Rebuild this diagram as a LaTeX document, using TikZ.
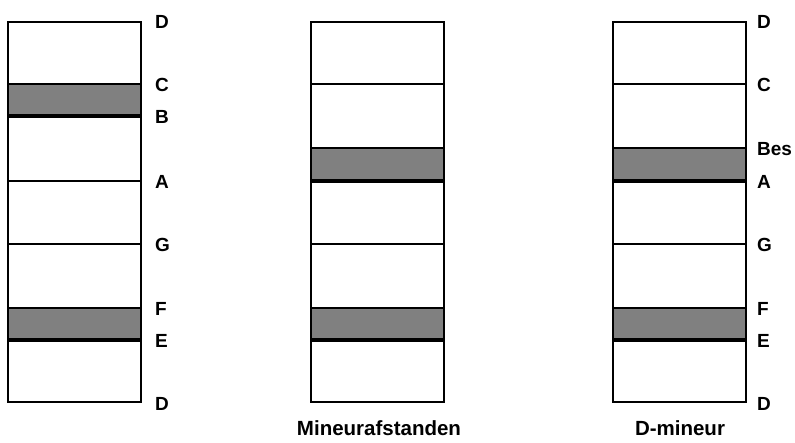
\documentclass[tikz,border=0pt]{standalone}
\usepackage{fontspec}
\setmainfont{Liberation Sans}
\usepackage{tikz}

\tikzset{
  note/.style={font=\fontsize{19}{19}\selectfont\bfseries, anchor=west, inner sep=0pt},
  caption/.style={font=\fontsize{20.5}{21}\selectfont\bfseries, inner sep=0pt},
  halfstep/.style={fill=black!50, draw=none},
  bar/.style={line width=3.6pt}
}

\begin{document}
\begin{tikzpicture}[x=1pt, y=-1pt, line width=2.2pt]
\useasboundingbox (0,0) rectangle (795,442);

% linker kolom: D-dorisch
\fill[halfstep] (8,84) rectangle (141,116);
\fill[halfstep] (8,308) rectangle (141,340);
\draw (8,22) rectangle (141,402);
\draw (8,84) -- (141,84);
\draw (8,181) -- (141,181);
\draw (8,244) -- (141,244);
\draw (8,308) -- (141,308);
\draw[bar] (8,116) -- (141,116);
\draw[bar] (8,340) -- (141,340);
\node[note] (lD) at (154,22) {D};
\node[note] (lC) at (154,85) {C};
\node[note] (lB) at (154,117) {B};
\node[note] (lA) at (154,182) {A};
\node[note] (lG) at (154,245) {G};
\node[note] (lF) at (154,309) {F};
\node[note] (lE) at (154,341) {E};
\node[note] (lDl) at (154,404) {D};

% middelste kolom
\fill[halfstep] (311,148) rectangle (444,181);
\fill[halfstep] (311,308) rectangle (444,340);
\draw (311,22) rectangle (444,402);
\draw (311,84) -- (444,84);
\draw (311,148) -- (444,148);
\draw (311,244) -- (444,244);
\draw (311,308) -- (444,308);
\draw[bar] (311,181) -- (444,181);
\draw[bar] (311,340) -- (444,340);
\node[caption] (mineur) at (379,428) {Mineurafstanden};

% rechter kolom: D-mineur
\fill[halfstep] (613,148) rectangle (746,181);
\fill[halfstep] (613,308) rectangle (746,340);
\draw (613,22) rectangle (746,402);
\draw (613,84) -- (746,84);
\draw (613,148) -- (746,148);
\draw (613,244) -- (746,244);
\draw (613,308) -- (746,308);
\draw[bar] (613,181) -- (746,181);
\draw[bar] (613,340) -- (746,340);
\node[note] (rD) at (756,22) {D};
\node[note] (rC) at (756,85) {C};
\node[note] (rBes) at (756,149) {Bes};
\node[note] (rA) at (756,182) {A};
\node[note] (rG) at (756,245) {G};
\node[note] (rF) at (756,309) {F};
\node[note] (rE) at (756,341) {E};
\node[note] (rDl) at (756,404) {D};
\node[caption] (dmineur) at (680,428) {D-mineur};
\end{tikzpicture}
\end{document}
